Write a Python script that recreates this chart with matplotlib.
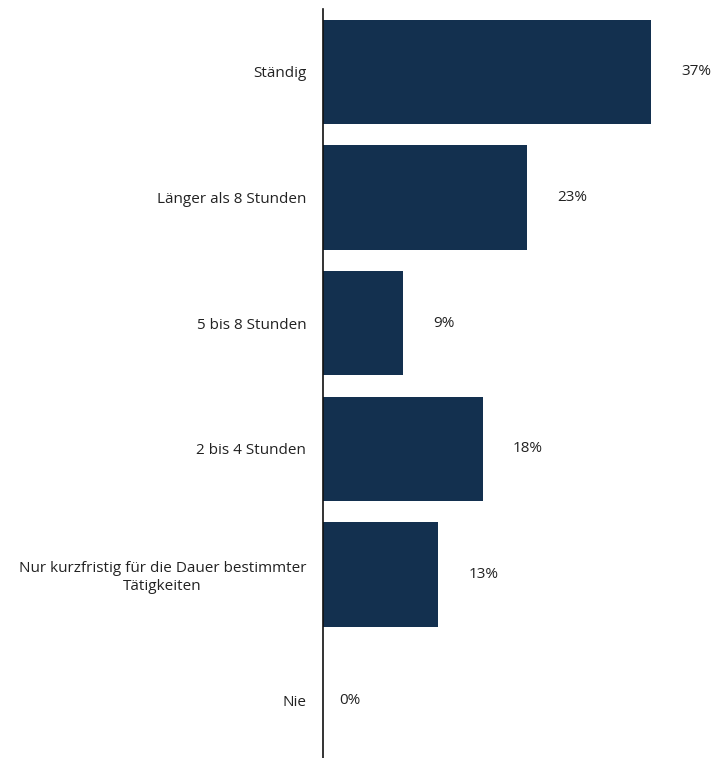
import matplotlib.pyplot as plt

kategorien = [
    "Ständig",
    "Länger als 8 Stunden",
    "5 bis 8 Stunden",
    "2 bis 4 Stunden",
    "Nur kurzfristig für die Dauer bestimmter\nTätigkeiten",
    "Nie",
]
anteile = [37, 23, 9, 18, 13, 0]

plt.rcParams['font.family'] = ['Open Sans', 'DejaVu Sans']

fig = plt.figure(figsize=(7.13, 7.58), dpi=100)
ax = fig.add_axes([323 / 713, -5 / 758, 390 / 713, 754 / 758])

pos = list(range(len(kategorien)))
ax.barh(pos, anteile, height=0.83, color="#13304f")

# Prozentwerte rechts neben den Balken
for y, v in zip(pos, anteile):
    off = 22 if v > 0 else 12
    ax.annotate(f"{v}%", (v, y), xytext=(off, 0), textcoords="offset points",
                va="center", ha="left", fontsize=11, color="#222222")

ax.set_yticks(pos)
ax.set_yticklabels(kategorien, fontsize=11, color="#222222",
                   ha="right", multialignment="center")
ax.tick_params(axis="y", length=0, pad=12)
ax.set_ylim(5.5, -0.5)
ax.set_xlim(0, 44)
ax.set_xticks([])

for s in ["top", "right", "bottom"]:
    ax.spines[s].set_visible(False)
ax.spines["left"].set_linewidth(1.2)
ax.spines["left"].set_color("#111111")

fig.savefig("out.png", dpi=100)
